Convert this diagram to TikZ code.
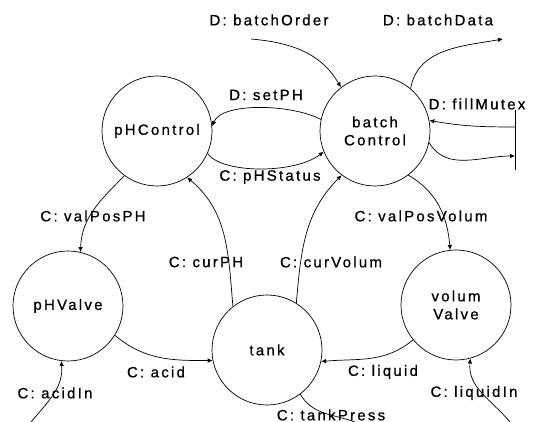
\documentclass[tikz,border=0pt]{standalone}
\usepackage{fontspec}
\setmainfont{Liberation Sans}[LetterSpace=15,FakeBold=0.8]
\usetikzlibrary{arrows.meta}
\begin{document}
\begin{tikzpicture}[x=1pt,y=1pt,
  font=\fontsize{15}{18}\selectfont,
  proc/.style={circle,draw,line width=0.7pt,minimum size=110pt,inner sep=0pt,align=center},
  flow/.style={line width=0.7pt,-{Latex[length=5pt,width=4.5pt]}},
  plain/.style={line width=0.7pt},
  lbl/.style={inner sep=0pt,fill=none}]
\useasboundingbox (0,0) rectangle (533,422);
% processes
\node[proc] (pC) at (157,291) {pHControl};
\node[proc] (bc) at (375,291) {batch\\Control};
\node[proc] (pV) at (68,116) {pHValve};
\node[proc] (tk) at (267,72) {tank};
\node[proc] (vV) at (456,117) {volum\\Valve};
% free ends
\coordinate (boIn) at (251,383);
\coordinate (bdOut) at (503,383);
\coordinate (barT) at (515,312);
\coordinate (barB) at (515,252);
\coordinate (barA) at (515,295);
\coordinate (barC) at (515,266);
\coordinate (aiS) at (31,0);
\coordinate (liS) at (510,0);
\coordinate (tpE) at (355,0);
% connectors
\draw[flow] (boIn) to[out=-5,in=120] (bc.128);
\draw[flow] (bc.50) to[out=80,in=190] (bdOut);
\draw[flow] (bc.168) .. controls (292,318) and (222,320) .. (pC.5);
\draw[flow] (pC.-24) .. controls (222,248) and (295,248) .. (bc.202);
\draw[plain] (barT) -- (barB);
\draw[flow] (barA) to[out=180,in=-10] (bc.11);
\draw[flow] (bc.-12) to[out=-60,in=180] (barC);
\draw[flow] (pC.234) to[out=225,in=88] (pV.77);
\draw[flow] (tk.128) to[out=95,in=-40] (pC.-57);
\draw[flow] (tk.58) to[out=85,in=225] (bc.233);
\draw[flow] (bc.-53) to[out=-30,in=95] (vV.96);
\draw[flow] (pV.-32) to[out=-40,in=180] (tk.191);
\draw[flow] (vV.219) to[out=220,in=5] (tk.-12);
\draw[flow] (aiS) to[out=50,in=-85] (pV.-97);
\draw[flow] (liS) to[out=130,in=-95] (vV.-75);
\draw[plain] (tk.-53) to[out=-60,in=160] (tpE);
% labels
\node[lbl] (l1) at (269,402) {D: batchOrder};
\node[lbl] (l2) at (438,402) {D: batchData};
\node[lbl] (l3) at (266,327) {D: setPH};
\node[lbl] (l4) at (270,245) {C: pHStatus};
\node[lbl] (l5) at (477,318) {D: fillMutex};
\node[lbl] (l6) at (93,206) {C: valPosPH};
\node[lbl] (l7) at (206,160) {C: curPH};
\node[lbl] (l8) at (331,160) {C: curVolum};
\node[lbl] (l9) at (421,206) {C: valPosVolum};
\node[lbl] (l10) at (156,50) {C: acid};
\node[lbl] (l11) at (383,50) {C: liquid};
\node[lbl] (l12) at (55,29) {C: acidIn};
\node[lbl] (l13) at (474,29) {C: liquidIn};
\node[lbl] (l14) at (331,7) {C: tankPress};
\end{tikzpicture}
\end{document}
